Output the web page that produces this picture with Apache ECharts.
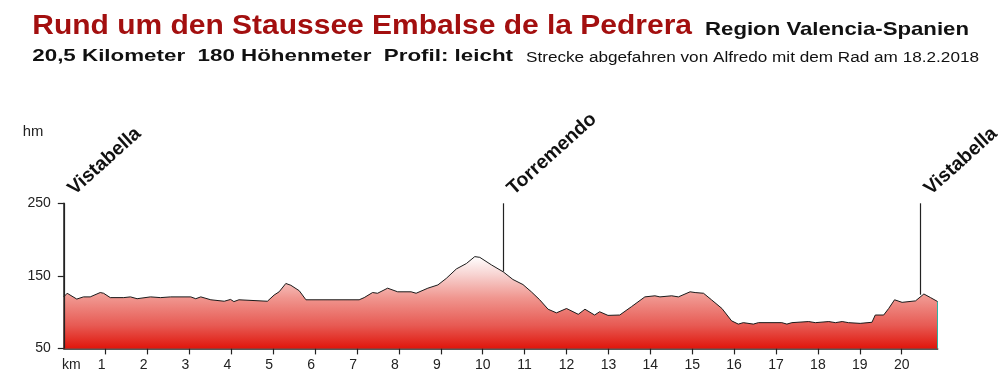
<!DOCTYPE html>
<html>
<head>
<meta charset="utf-8">
<script src="https://cdn.jsdelivr.net/npm/echarts@6/dist/echarts.min.js"></script>
<style>
html,body{margin:0;padding:0;background:#fff;}
#chart{width:1000px;height:381px;}
</style>
</head>
<body>
<div id="chart"></div>
<script>
// ---- data ----
const titleText = 'Rund um den Staussee Embalse de la Pedrera';
const regionText = 'Region Valencia-Spanien';
const statsText = '20,5 Kilometer  180 Höhenmeter  Profil: leicht';
const creditText = 'Strecke abgefahren von Alfredo mit dem Rad am 18.2.2018';
const yName = 'hm';
const xName = 'km';

const distKm = [0, 0.08, 0.31, 0.47, 0.63, 0.87, 0.95, 1.11, 1.43, 1.59, 1.75, 2.07, 2.31, 2.55, 3.03, 3.15, 3.27, 3.51, 3.83, 3.98,
  4.06, 4.18, 4.22, 4.86, 5.02, 5.14, 5.30, 5.42, 5.62, 5.78, 7.05, 7.17, 7.37, 7.49, 7.73, 7.97, 8.29, 8.41, 8.69, 8.93,
  9.13, 9.37, 9.61, 9.81, 9.93, 10.21, 10.49, 10.72, 10.96, 11.16, 11.36, 11.56, 11.76, 12.00, 12.28, 12.44, 12.67, 12.79, 12.99, 13.27,
  13.55, 13.87, 14.11, 14.23, 14.51, 14.67, 14.95, 15.07, 15.27, 15.46, 15.71, 15.94, 16.10, 16.22, 16.46, 16.58, 17.14, 17.26, 17.38, 17.78,
  17.94, 18.26, 18.42, 18.58, 18.73, 19.01, 19.29, 19.37, 19.57, 19.69, 19.83, 20.01, 20.33, 20.53, 20.69, 20.86];
const elevHm = [121, 126, 118, 121, 121, 127, 126, 120, 120, 121, 118.5, 121, 120, 121, 121, 118.5, 121, 117, 115, 117.5,
  114.5, 117, 115, 115, 123.5, 128, 139.5, 137, 129.5, 117, 117, 120, 127, 126, 133, 128, 128, 126, 133, 137.5,
  146.5, 159.5, 167, 176.5, 175.5, 165, 155.5, 145, 138, 128, 117, 104, 99, 105, 97, 104, 96, 100.5, 95.5, 96,
  107.5, 121, 122.5, 121, 122.5, 121, 128, 127, 126, 117, 105, 88, 83.5, 85.5, 83.5, 85.5, 85.5, 83.5, 85.5, 87,
  85.5, 87, 85.5, 87, 85.5, 84.5, 86, 96, 96, 105, 117, 113.5, 115.5, 125, 120, 114.5];

const placeNames = ['Vistabella', 'Torremendo', 'Vistabella'];
const placeKm = [0, 10.49, 20.44];
const placeElev = [50, 156, 124];
const markerTop = 250;

const xTicks = [1,2,3,4,5,6,7,8,9,10,11,12,13,14,15,16,17,18,19,20];
const xLabels = [0,1,2,3,4,5,6,7,8,9,10,11,12,13,14,15,16,17,18,19,20];
const yMin = 50, yMax = 250, yStep = 100;
const xMax = 20.86;

// ---- rendering ----
const FONT = '"Liberation Sans", Arial, sans-serif';
const measureCtx = document.createElement('canvas').getContext('2d');
function headerText(text, x0, x1, cy, size, weight, color) {
  measureCtx.font = weight + ' ' + size + 'px ' + FONT;
  const w = measureCtx.measureText(text).width;
  return {
    type: 'text', x: x0, y: cy, scaleX: (x1 - x0) / w, silent: true,
    style: { text: text, fill: color, font: weight + ' ' + size + 'px ' + FONT, textAlign: 'left', textVerticalAlign: 'middle' }
  };
}

const chart = echarts.init(document.getElementById('chart'), null, { renderer: 'canvas' });
const seriesData = distKm.map((k, i) => [k, elevHm[i]]);

const option = {
  animation: false,
  backgroundColor: '#ffffff',
  grid: { left: 63.8, right: 62.3, top: 203.3, bottom: 32.6, containLabel: false },
  graphic: [
    headerText(titleText, 32.3, 692, 26.2, 27, 'bold', '#a30f0f'),
    headerText(regionText, 705, 969, 29.5, 19, 'bold', '#111111'),
    headerText(statsText, 32.3, 513, 56.7, 16.5, 'bold', '#111111'),
    headerText(creditText, 526, 979, 58.5, 14, 'normal', '#111111'),
    headerText(yName, 22.7, 43.3, 131.7, 14, 'normal', '#222222')
  ],
  xAxis: {
    type: 'value', min: 0, max: xMax, interval: 1,
    axisLine: { show: true, onZero: false, lineStyle: { color: '#222', width: 1.5 } },
    axisTick: { show: true, length: 6, customValues: xTicks, lineStyle: { color: '#222', width: 1.2 } },
    splitLine: { show: false },
    axisLabel: {
      customValues: xLabels, margin: 10, color: '#222', fontSize: 14, fontFamily: FONT,
      formatter: function (v) {
        if (v === 0) return '{k|' + xName + '}';
        if (Math.abs(v - Math.round(v)) > 1e-6) return '';
        return v < 10 ? '{s|' + v + '}' : String(v);
      },
      rich: {
        k: { fontSize: 14, fontFamily: FONT, color: '#222', padding: [0, 0, 0, 15] },
        s: { fontSize: 14, fontFamily: FONT, color: '#222', padding: [0, 8, 0, 0] }
      }
    }
  },
  yAxis: {
    type: 'value', min: yMin, max: yMax, interval: yStep,
    axisLine: { show: true, lineStyle: { color: '#222', width: 1.5 } },
    axisTick: { show: true, length: 6, lineStyle: { color: '#222', width: 1.2 } },
    splitLine: { show: false },
    axisLabel: { margin: 13, color: '#222', fontSize: 14, fontFamily: FONT }
  },
  series: [{
    type: 'line',
    data: seriesData,
    symbol: 'none',
    smooth: false,
    lineStyle: { color: '#1a1a1a', width: 1 },
    areaStyle: {
      origin: 'start',
      opacity: 1,
      color: new echarts.graphic.LinearGradient(0, 0, 0, 1, [
        { offset: 0, color: '#ffffff' },
        { offset: 0.2, color: '#f7d2d0' },
        { offset: 0.45, color: '#f0968f' },
        { offset: 0.75, color: '#e75a53' },
        { offset: 1, color: '#e0160c' }
      ])
    },
    markLine: {
      silent: true, symbol: ['none', 'none'], animation: false,
      label: { show: false },
      lineStyle: { color: '#222', width: 1.2, type: 'solid' },
      data: placeNames.map((n, i) => [
        { coord: [placeKm[i], markerTop] },
        { coord: [placeKm[i], placeElev[i]] }
      ]).concat([[
        { coord: [xMax, yMin], lineStyle: { color: '#2fb3a6', width: 1 } },
        { coord: [xMax, elevHm[elevHm.length - 1]] }
      ]])
    },
    markPoint: {
      silent: true, symbol: 'circle', symbolSize: 1, animation: false,
      itemStyle: { color: 'rgba(0,0,0,0)' },
      label: {
        show: true, formatter: '{b}', position: 'inside', align: 'left', verticalAlign: 'bottom',
        rotate: 42, offset: [13, 6], fontSize: 19.5, fontWeight: 'bold', fontFamily: FONT, color: '#111'
      },
      data: placeNames.map((n, i) => ({ name: n, coord: [placeKm[i], markerTop] }))
    }
  }]
};
chart.setOption(option);
</script>
</body>
</html>
